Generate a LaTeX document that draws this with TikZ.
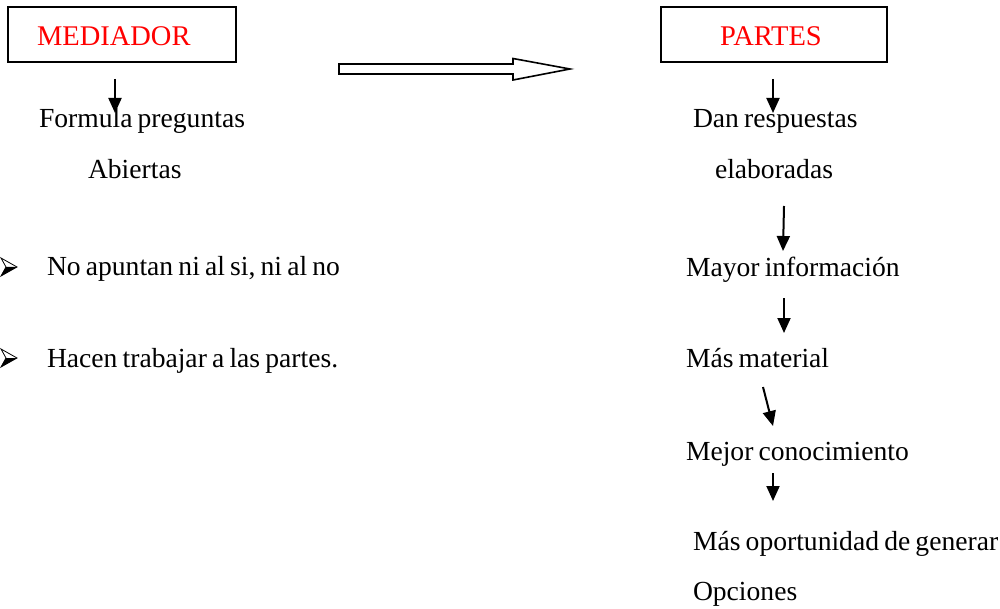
\documentclass[tikz,border=0pt]{standalone}
\usepackage{fontspec}
\setmainfont{Liberation Serif}[WordSpace=0.75]
\usetikzlibrary{arrows.meta}
\tikzset{
  txt/.style={anchor=base west, inner sep=0pt, outer sep=0pt, font=\fontsize{27.6}{34}\selectfont, text=black},
  redtxt/.style={txt, font=\fontsize{28.5}{34}\selectfont, text={rgb,255:red,255;green,0;blue,0}},
  boxnode/.style={draw=black, line width=2pt, inner sep=0pt, rectangle},
  flow/.style={line width=2pt, -{Triangle[length=15pt,width=13pt]}},
  hollow/.style={draw=black, line width=1.6pt, fill=white, line join=miter}
}
\begin{document}
\begin{tikzpicture}[x=1pt,y=-1pt]
\useasboundingbox (0,0) rectangle (1000,609);
% boxes
\node[boxnode, minimum width=228pt, minimum height=55pt] (medbox) at (122,34.5) {};
\node[redtxt] (medt) at (37,46) {MEDIADOR};
\node[boxnode, minimum width=226pt, minimum height=55pt] (parbox) at (774,34.5) {};
\node[redtxt] (part) at (720,46) {PARTES};
% big hollow arrow
\draw[hollow] (339,64) -- (513,64) -- (513,58.5) -- (570,69) -- (513,80) -- (513,74) -- (339,74) -- cycle;
% left texts
\node[txt] (formula) at (39,128) {Formula preguntas};
\node[txt] (abiertas) at (88,179) {Abiertas};
\node[txt] (noap) at (47,276) {No apuntan ni al si, ni al no};
\node[txt] (hacen) at (47,367) {Hacen trabajar a las partes.};
% bullets
\foreach \yy/\nm in {267/b1, 358/b2} {
  \coordinate (\nm) at (0,\yy);
  \fill[black] ([xshift=6pt]\nm) -- ([xshift=17pt]\nm) -- ([xshift=1pt,yshift=-9pt]\nm) -- cycle;
  \draw[black, line width=0.8pt, line join=miter] ([xshift=17pt]\nm) -- ([xshift=1pt,yshift=9pt]\nm) -- ([xshift=6pt]\nm) -- ([xshift=1pt,yshift=-9pt]\nm) -- cycle;
}
% right texts
\node[txt] (dan) at (693,128) {Dan respuestas};
\node[txt] (elab) at (715,179) {elaboradas};
\node[txt] (mayor) at (686,277) {Mayor información};
\node[txt] (mas) at (686,367) {Más material};
\node[txt] (mejor) at (686,460) {Mejor conocimiento};
\node[txt] (oport) at (693,550) {Más oportunidad de generar};
\node[txt] (opc) at (693,600) {Opciones};
% small arrows
\coordinate (a1s) at (115,79); \coordinate (a1e) at (115,113);
\coordinate (a2s) at (773,79); \coordinate (a2e) at (773,113);
\coordinate (a3s) at (784,206); \coordinate (a3e) at (783,251);
\coordinate (a4s) at (784,298); \coordinate (a4e) at (784,333);
\coordinate (a5s) at (763,387); \coordinate (a5e) at (773,426);
\coordinate (a6s) at (773,473); \coordinate (a6e) at (773,501);
\draw[flow] (a1s) -- (a1e);
\draw[flow] (a2s) -- (a2e);
\draw[flow] (a3s) -- (a3e);
\draw[flow] (a4s) -- (a4e);
\draw[flow] (a5s) -- (a5e);
\draw[flow] (a6s) -- (a6e);
\end{tikzpicture}
\end{document}
